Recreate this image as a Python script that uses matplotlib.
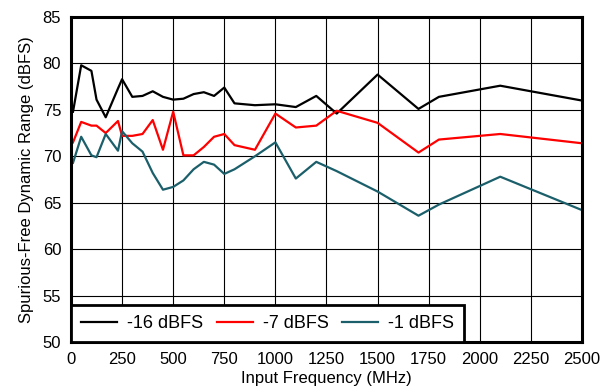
import matplotlib.pyplot as plt

plt.rcParams['font.family'] = ['Liberation Sans', 'DejaVu Sans']

# input frequency (MHz)
freq = [10, 50, 100, 125, 170, 230, 250, 300, 350, 400, 450, 500, 550, 600,
        650, 700, 750, 800, 900, 1000, 1100, 1200, 1300, 1500, 1700, 1800, 2100, 2500]

# SFDR (dBFS) for each input level
sfdr_16 = [74.8, 79.8, 79.2, 76.1, 74.2, 77.3, 78.3, 76.4, 76.5, 77.0, 76.4, 76.1, 76.2, 76.7,
           76.9, 76.5, 77.4, 75.7, 75.5, 75.6, 75.3, 76.5, 74.6, 78.8, 75.1, 76.4, 77.6, 76.0]
sfdr_7 = [71.5, 73.7, 73.3, 73.3, 72.5, 73.8, 72.2, 72.2, 72.4, 73.9, 70.7, 74.8, 70.1, 70.1,
          71.0, 72.1, 72.4, 71.2, 70.7, 74.6, 73.1, 73.3, 74.9, 73.6, 70.4, 71.8, 72.4, 71.4]
sfdr_1 = [69.3, 72.1, 70.1, 69.9, 72.4, 70.6, 72.7, 71.4, 70.5, 68.2, 66.4, 66.7, 67.4, 68.6,
          69.4, 69.1, 68.1, 68.6, 70.0, 71.5, 67.6, 69.4, 68.4, 66.2, 63.6, 64.8, 67.8, 64.2]

fig = plt.figure(figsize=(6.04, 3.88), dpi=100)
ax = fig.add_axes([0.1175, 0.1186, 0.8461, 0.8376])

ax.plot(freq, sfdr_16, color='black', lw=1.6, label='-16 dBFS')
ax.plot(freq, sfdr_7, color='#ff0000', lw=1.6, label='-7 dBFS')
ax.plot(freq, sfdr_1, color='#1b5f6b', lw=1.6, label='-1 dBFS')

ax.set_xlim(0, 2500)
ax.set_ylim(50, 85)
ax.set_xticks(range(0, 2501, 250))
ax.set_yticks(range(50, 86, 5))
ax.grid(True, color='black', lw=0.8)
ax.tick_params(labelsize=12, length=0, pad=7)
for s in ax.spines.values():
    s.set_linewidth(2.2)

ax.set_xlabel('Input Frequency (MHz)', fontsize=12, labelpad=3)
ax.set_ylabel('Spurious-Free Dynamic Range (dBFS)', fontsize=12, labelpad=6)

leg = ax.legend(loc='lower left', bbox_to_anchor=(0, 0), ncol=3, borderaxespad=0,
                fancybox=False, framealpha=1, edgecolor='black', fontsize=13,
                handlelength=2.0, handletextpad=0.55, columnspacing=0.75,
                borderpad=0.55)
leg.get_frame().set_linewidth(2)
leg.set_zorder(5)

fig.savefig('out.png', dpi=100)
